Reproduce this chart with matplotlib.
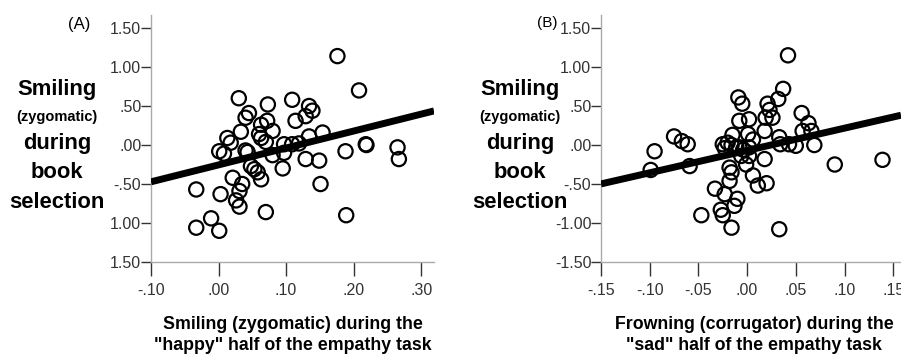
import matplotlib
matplotlib.use('Agg')
import matplotlib.pyplot as plt
import numpy as np

# ---- data ----
# (A) smiling during "happy" half vs smiling during book selection
happy_x = [0.176, 0.208, 0.030, 0.073, 0.109, 0.134, 0.139, 0.129, 0.045, 0.040,
           0.114, 0.072, 0.063, 0.080, 0.033, 0.013, 0.018, 0.060, 0.063, 0.070,
           0.154, 0.134, 0.097, 0.109, 0.119, 0.001, 0.008, 0.040, 0.188, 0.218,
           0.219, 0.265, 0.267, 0.129, 0.149, 0.097, 0.080, 0.095, 0.151, 0.048,
           0.053, 0.058, 0.063, 0.021, 0.035, 0.031, 0.026, 0.031, 0.070, 0.003,
           -0.033, -0.011, -0.033, 0.001, 0.189, 0.043]
happy_y = [1.14, 0.70, 0.60, 0.52, 0.58, 0.50, 0.44, 0.37, 0.41, 0.35,
           0.31, 0.31, 0.26, 0.18, 0.17, 0.09, 0.03, 0.14, 0.09, 0.04,
           0.16, 0.11, 0.01, 0.01, 0.02, -0.08, -0.11, -0.07, -0.08, 0.01,
           0.00, -0.03, -0.18, -0.18, -0.20, -0.10, -0.13, -0.30, -0.50, -0.27,
           -0.31, -0.35, -0.44, -0.42, -0.50, -0.59, -0.71, -0.79, -0.86, -0.63,
           -0.57, -0.94, -1.06, -1.10, -0.90, -0.09]
happy_fit = (2.17, -0.255)   # slope, intercept

# (B) frowning during "sad" half vs smiling during book selection
sad_x = [0.042, 0.037, 0.032, 0.021, 0.023, 0.019, 0.026, -0.009, -0.005, -0.008,
         0.002, 0.056, 0.063, 0.057, 0.066, 0.069, 0.018, 0.033, 0.034, 0.043,
         0.050, 0.001, 0.006, -0.015, -0.025, -0.020, -0.023, -0.016, -0.011, -0.008,
         -0.004, 0.002, -0.075, -0.067, -0.061, -0.095, -0.099, -0.059, 0.090, 0.139,
         -0.006, 0.002, 0.018, -0.001, -0.018, -0.016, 0.006, 0.011, 0.020, -0.018,
         -0.033, -0.023, -0.010, -0.013, -0.027, -0.025, -0.016, 0.033, -0.047]
sad_y = [1.15, 0.72, 0.59, 0.53, 0.45, 0.35, 0.35, 0.61, 0.53, 0.31,
         0.33, 0.41, 0.28, 0.18, 0.18, 0.00, 0.18, 0.10, 0.01, 0.01,
         -0.01, 0.14, 0.07, 0.13, 0.01, 0.03, -0.04, 0.00, -0.03, -0.03,
         -0.06, -0.03, 0.11, 0.05, 0.01, -0.08, -0.32, -0.27, -0.25, -0.19,
         -0.14, -0.14, -0.18, -0.25, -0.29, -0.35, -0.39, -0.52, -0.49, -0.46,
         -0.56, -0.63, -0.69, -0.78, -0.83, -0.90, -1.06, -1.08, -0.90]
sad_fit = (2.86, -0.07)

y_ticks = [1.5, 1.0, 0.5, 0.0, -0.5, -1.0, -1.5]
y_labels_a = ['1.50', '1.00', '.50', '.00', '-.50', '1.00', '1.50']
y_labels_b = ['1.50', '1.00', '.50', '.00', '-.50', '-1.00', '-1.50']
x_ticks_a = [-0.10, 0.00, 0.10, 0.20, 0.30]
x_labels_a = ['-.10', '.00', '.10', '.20', '.30']
x_ticks_b = [-0.15, -0.10, -0.05, 0.00, 0.05, 0.10, 0.15]
x_labels_b = ['-.15', '-.10', '-.05', '.00', '.05', '.10', '.15']

ylabel_lines = ['Smiling', '(zygomatic)', 'during', 'book', 'selection']
xlabel_a = 'Smiling (zygomatic) during the\n"happy" half of the empathy task'
xlabel_b = 'Frowning (corrugator) during the\n"sad" half of the empathy task'

sans = ['Liberation Sans', 'DejaVu Sans']
W, H = 901, 355

fig = plt.figure(figsize=(W / 100, H / 100), dpi=100)


def px(x, y):
    return x / W, 1 - y / H


def panel(rect, xs, ys, fit, xlim, xticks, xlabels, ylabels):
    ax = fig.add_axes(rect)
    ax.set_xlim(*xlim)
    ax.set_ylim(-1.5, 1.667)
    xx = np.array(xlim)
    ax.plot(xx, fit[0] * xx + fit[1], color='black', lw=5, solid_capstyle='butt', zorder=3)
    ax.scatter(xs, ys, s=105, facecolors='none', edgecolors='black', linewidths=1.6, zorder=4,
               clip_on=False)
    for side in ['top', 'right']:
        ax.spines[side].set_visible(False)
    for side in ['left', 'bottom']:
        ax.spines[side].set_color('#aaaaaa')
        ax.spines[side].set_linewidth(1.0)
    ax.set_xticks(xticks)
    ax.set_xticklabels(xlabels, family=sans, fontsize=11.5, color='#333333')
    ax.set_yticks(y_ticks)
    ax.set_yticklabels(ylabels, family=sans, fontsize=11.5, color='#333333')
    ax.tick_params(axis='x', length=10, width=1.0, color='#333333', pad=5)
    ax.tick_params(axis='y', length=7, width=1.0, color='#333333', pad=0)
    return ax


ax_a = panel([151 / W, 93 / H, 283 / W, 247 / H], happy_x, happy_y, happy_fit,
             (-0.10, 0.319), x_ticks_a, x_labels_a, y_labels_a)
ax_b = panel([601 / W, 93 / H, 300 / W, 247 / H], sad_x, sad_y, sad_fit,
             (-0.15, 0.158), x_ticks_b, x_labels_b, y_labels_b)

# stacked y-axis titles
line_y = [90, 117, 143, 172, 202]
for cx in [57, 520]:
    for txt, yy in zip(ylabel_lines, line_y):
        size = 10.5 if txt.startswith('(') else 15.8
        fig.text(*px(cx, yy), txt, ha='center', va='center', fontsize=size,
                 fontweight='bold', family=sans)

fig.text(*px(293, 335), xlabel_a, ha='center', va='center', fontsize=12.8,
         fontweight='bold', family=sans, linespacing=1.3)
fig.text(*px(754, 335), xlabel_b, ha='center', va='center', fontsize=12.8,
         fontweight='bold', family=sans, linespacing=1.3)

fig.text(*px(79, 25), '(A)', ha='center', va='center', fontsize=12, family=sans)
fig.text(*px(547, 23), '(B)', ha='center', va='center', fontsize=11, family=sans)

fig.savefig('out.png', dpi=100)
